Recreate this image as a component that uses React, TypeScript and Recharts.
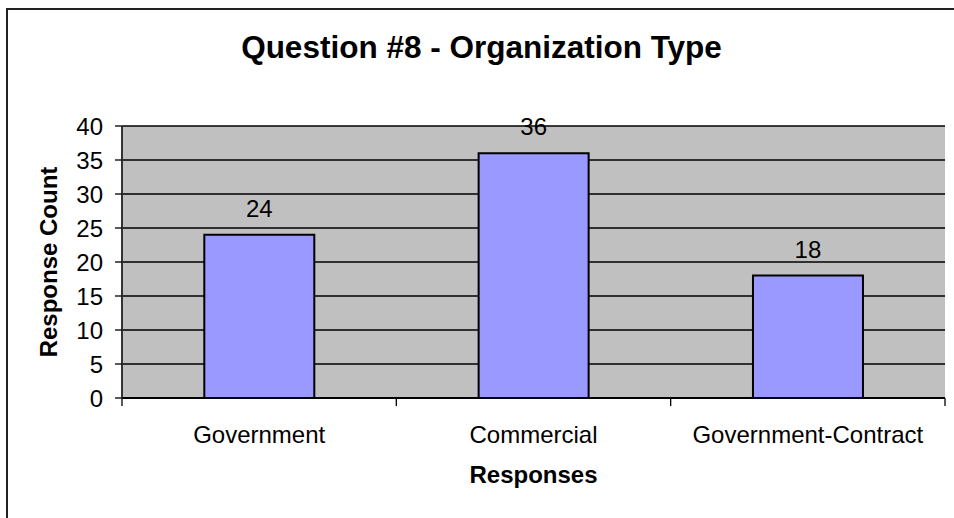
import React from "react";
import {
  BarChart, Bar, XAxis, YAxis, CartesianGrid, LabelList,
} from "recharts";

const categories = ["Government", "Commercial", "Government-Contract"];
const responseCounts = [24, 36, 18];
const yTicks = [0, 5, 10, 15, 20, 25, 30, 35, 40];

const title = "Question #8 - Organization Type";
const xTitle = "Responses";
const yTitle = "Response Count";

const data = categories.map((name, i) => ({ name, value: responseCounts[i] }));

const FONT = "'Liberation Sans', Arial, Helvetica, sans-serif";
const TICK_FS = 24;
const X_TICK_MARGIN = 28;

// category label plus the tick marks that sit on the category boundaries
function CategoryTick(props: any) {
  const { x, y, payload, index, visibleTicksCount } = props;
  const half = payload.offset || 0;
  const axisY = y - X_TICK_MARGIN;
  const isLast = index === (visibleTicksCount ?? categories.length) - 1;
  return (
    <g>
      <line x1={x - half} x2={x - half} y1={axisY} y2={axisY + 8} stroke="#000" strokeWidth={1.3} />
      {isLast && <line x1={x + half} x2={x + half} y1={axisY} y2={axisY + 8} stroke="#000" strokeWidth={1.3} />}
      <text x={x} y={y} dy="0.71em" textAnchor="middle" fontSize={TICK_FS} fill="#000" fontFamily={FONT}>
        {payload.value}
      </text>
    </g>
  );
}

export default function App() {
  return (
    <div style={{ position: "absolute", left: 0, top: 0, width: 954, height: 518, overflow: "hidden", background: "#fff", fontFamily: FONT }}>
      {/* outer chart frame */}
      <div style={{ position: "absolute", left: 6, top: 8, width: 980, height: 540, border: "2px solid #222" }} />
      <div style={{ position: "absolute", left: 7, top: 32, width: 949, textAlign: "center", fontSize: 31.5, lineHeight: "31px", fontWeight: "bold", color: "#000" }}>
        {title}
      </div>
      <div style={{ position: "absolute", left: 0, top: 0 }}>
        <BarChart
          width={954}
          height={518}
          data={data}
          margin={{ top: 126, right: 9, bottom: 30, left: 0 }}
          barCategoryGap="30%"
        >
          <CartesianGrid xAxisId="cat" yAxisId="left" vertical={false} stroke="#000" strokeWidth={1.3} fill="#C0C0C0" fillOpacity={1} />
          <XAxis xAxisId="top" orientation="top" dataKey="name" height={0} tick={false} tickLine={false} axisLine={{ stroke: "#808080", strokeWidth: 2 }} />
          <XAxis
            xAxisId="cat"
            dataKey="name"
            height={90}
            tickSize={0}
            tickLine={false}
            axisLine={{ stroke: "#000", strokeWidth: 2 }}
            tickMargin={X_TICK_MARGIN}
            tick={<CategoryTick />}
            interval={0}
            label={{
              content: ({ viewBox }: any) => (
                <text x={viewBox.x + viewBox.width / 2} y={viewBox.y + 85} textAnchor="middle" fontSize={TICK_FS} fontWeight="bold" fill="#000" fontFamily={FONT}>
                  {xTitle}
                </text>
              ),
            }}
          />
          <YAxis
            yAxisId="left"
            width={122}
            domain={[0, 40]}
            ticks={yTicks}
            interval={0}
            tickSize={7}
            tickMargin={12}
            tick={{ fontSize: TICK_FS, fill: "#000", fontFamily: FONT }}
            tickLine={{ stroke: "#000", strokeWidth: 1.3 }}
            axisLine={{ stroke: "#333", strokeWidth: 2 }}
            label={{
              content: ({ viewBox }: any) => {
                const cx = 57;
                const cy = viewBox.y + viewBox.height / 2;
                return (
                  <text x={cx} y={cy} textAnchor="middle" fontSize={TICK_FS} fontWeight="bold" fill="#000" fontFamily={FONT} transform={`rotate(-90, ${cx}, ${cy})`}>
                    {yTitle}
                  </text>
                );
              },
            }}
          />
          <YAxis yAxisId="right" orientation="right" width={0} domain={[0, 40]} tick={false} tickLine={false} axisLine={{ stroke: "#808080", strokeWidth: 2 }} />
          <Bar xAxisId="cat" yAxisId="left" dataKey="value" fill="#9999FF" stroke="#000" strokeWidth={2} isAnimationActive={false}>
            <LabelList dataKey="value" position="top" offset={18} fontSize={TICK_FS} fill="#000" fontFamily={FONT} />
          </Bar>
        </BarChart>
      </div>
    </div>
  );
}
